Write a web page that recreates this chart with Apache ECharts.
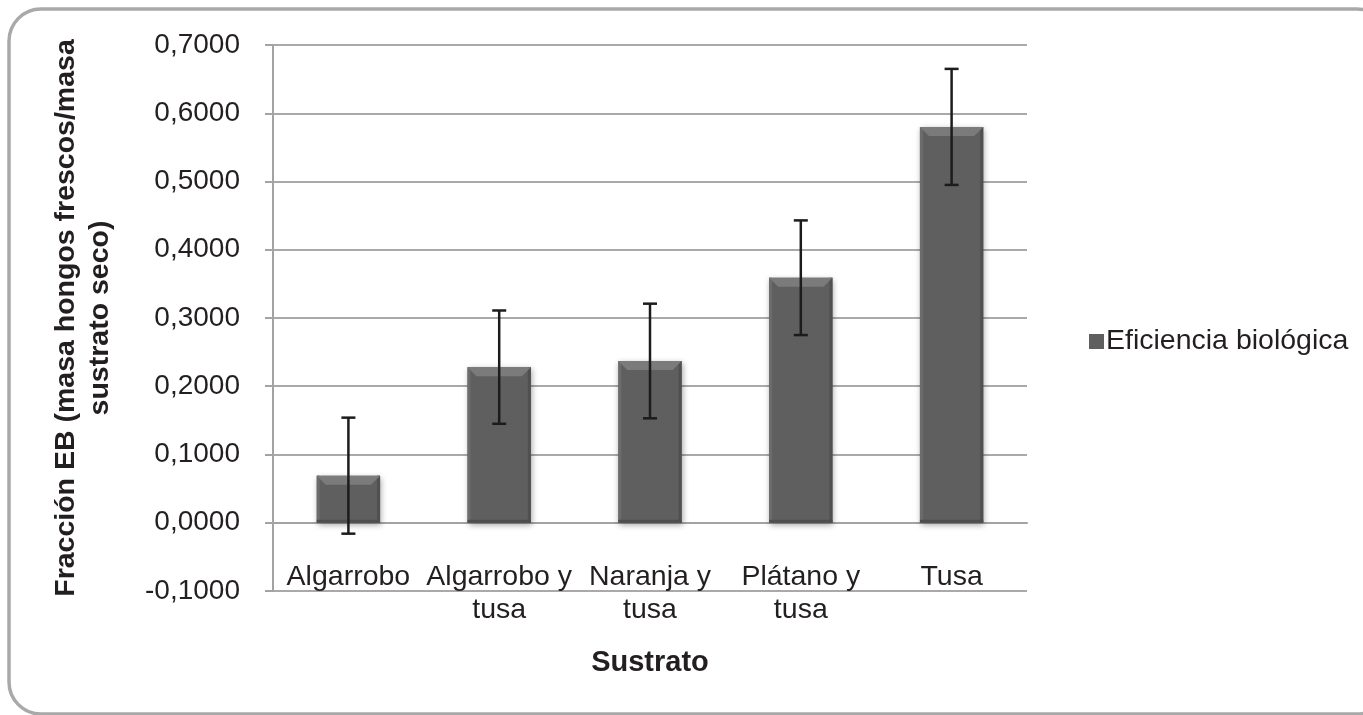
<!DOCTYPE html>
<html>
<head>
<meta charset="utf-8">
<script src="https://cdn.jsdelivr.net/npm/echarts@6/dist/echarts.min.js"></script>
<style>
html,body{margin:0;padding:0;background:#fff;}
#c{width:1363px;height:715px;}
</style>
</head>
<body>
<div id="c"></div>
<script>
const categories = ['Algarrobo', 'Algarrobo y\ntusa', 'Naranja y\ntusa', 'Plátano y\ntusa', 'Tusa'];
const values = [0.069, 0.228, 0.237, 0.359, 0.580];
const errors = [0.085, 0.083, 0.084, 0.084, 0.085];
const yTicks = { min: -0.1, max: 0.7, interval: 0.1 };
const seriesName = 'Eficiencia biológica';

const FONT = '"Liberation Sans", Arial, sans-serif';
const TXT = '#231f20';

const barData = values.map((v, i) => [i, v]);
const errData = values.map((v, i) => [i, v - errors[i], v + errors[i]]);

function renderBar(params, api) {
  const x = api.value(0), v = api.value(1);
  const top = api.coord([x, v]);
  const base = api.coord([x, 0]);
  const bw = api.size([1, 0])[0] * 0.42;
  const left = top[0] - bw / 2;
  const y0 = Math.min(top[1], base[1]);
  const h = Math.abs(base[1] - top[1]);
  const b = Math.min(9, h / 2);
  return {
    type: 'group',
    children: [
      { type: 'rect', shape: { x: left, y: y0, width: bw, height: h },
        style: { fill: '#5f5f60', shadowBlur: 6, shadowColor: 'rgba(0,0,0,0.35)', shadowOffsetX: 1, shadowOffsetY: 2 } },
      { type: 'rect', shape: { x: left, y: y0, width: 3, height: h }, style: { fill: '#6c6c6d' } },
      { type: 'rect', shape: { x: left + bw - 3, y: y0, width: 3, height: h }, style: { fill: '#505051' } },
      { type: 'polygon', shape: { points: [[left, y0], [left + bw, y0], [left + bw - b, y0 + b], [left + b, y0 + b]] },
        style: { fill: '#7b7b7c' } },
      { type: 'rect', shape: { x: left, y: y0 + h - 3, width: bw, height: 3 }, style: { fill: '#4e4e4f' } }
    ]
  };
}

function renderErr(params, api) {
  const x = api.value(0);
  const lo = api.coord([x, api.value(1)]);
  const hi = api.coord([x, api.value(2)]);
  const cw = 7;
  const st = { stroke: '#1c1c1c', lineWidth: 2.5 };
  return {
    type: 'group',
    children: [
      { type: 'line', shape: { x1: hi[0], y1: hi[1], x2: lo[0], y2: lo[1] }, style: st },
      { type: 'line', shape: { x1: hi[0] - cw, y1: hi[1], x2: hi[0] + cw, y2: hi[1] }, style: st },
      { type: 'line', shape: { x1: lo[0] - cw, y1: lo[1], x2: lo[0] + cw, y2: lo[1] }, style: st }
    ]
  };
}

const chart = echarts.init(document.getElementById('c'), null, { renderer: 'canvas' });
chart.setOption({
  animation: false,
  backgroundColor: '#ffffff',
  textStyle: { fontFamily: FONT, color: TXT },
  graphic: [{
    type: 'rect', silent: true, z: -10,
    shape: { x: 9, y: 9, width: 1380, height: 705, r: 32 },
    style: { fill: 'none', stroke: '#a9a9aa', lineWidth: 3.5 }
  }],
  grid: { left: 273, right: 336, top: 45, bottom: 124, containLabel: false, outerBoundsMode: 'none' },
  legend: {
    data: [seriesName],
    orient: 'vertical',
    left: 1084, top: 322,
    icon: 'rect', itemWidth: 15, itemHeight: 15, itemGap: 8,
    textStyle: { fontFamily: FONT, fontSize: 28.5, color: TXT, padding: [0, 0, 0, -3] }
  },
  xAxis: {
    type: 'category',
    data: categories,
    name: 'Sustrato',
    nameLocation: 'middle',
    nameGap: 57,
    nameMoveOverlap: false,
    nameTextStyle: { fontFamily: FONT, fontSize: 29, fontWeight: 'bold', color: TXT },
    axisLine: { onZero: true, lineStyle: { color: '#a3a3a4', width: 2 } },
    axisTick: { show: false },
    axisLabel: { fontFamily: FONT, fontSize: 28.5, color: TXT, margin: -30, lineHeight: 33, interval: 0 },
    splitLine: { show: false }
  },
  yAxis: {
    type: 'value',
    min: yTicks.min, max: yTicks.max, interval: yTicks.interval,
    name: 'Fracción EB (masa hongos frescos/masa\nsustrato seco)',
    nameLocation: 'middle',
    nameGap: 156,
    nameMoveOverlap: false,
    nameTextStyle: { fontFamily: FONT, fontSize: 28.5, fontWeight: 'bold', color: TXT, lineHeight: 34 },
    axisLine: { show: true, onZero: false, lineStyle: { color: '#a3a3a4', width: 2 } },
    axisTick: { show: true, length: 8, lineStyle: { color: '#a3a3a4', width: 2 } },
    axisLabel: { fontFamily: FONT, fontSize: 28, color: TXT, margin: 33,
      formatter: v => v.toFixed(4).replace('.', ',') },
    splitLine: { show: true, lineStyle: { color: '#a9a9aa', width: 2 } }
  },
  series: [
    {
      name: seriesName,
      type: 'custom',
      renderItem: renderBar,
      itemStyle: { color: '#5f5f60' },
      encode: { x: 0, y: 1 },
      data: barData,
      z: 2
    },
    {
      name: 'err',
      type: 'custom',
      renderItem: renderErr,
      encode: { x: 0, y: [1, 2] },
      data: errData,
      z: 3
    }
  ]
});
</script>
</body>
</html>
